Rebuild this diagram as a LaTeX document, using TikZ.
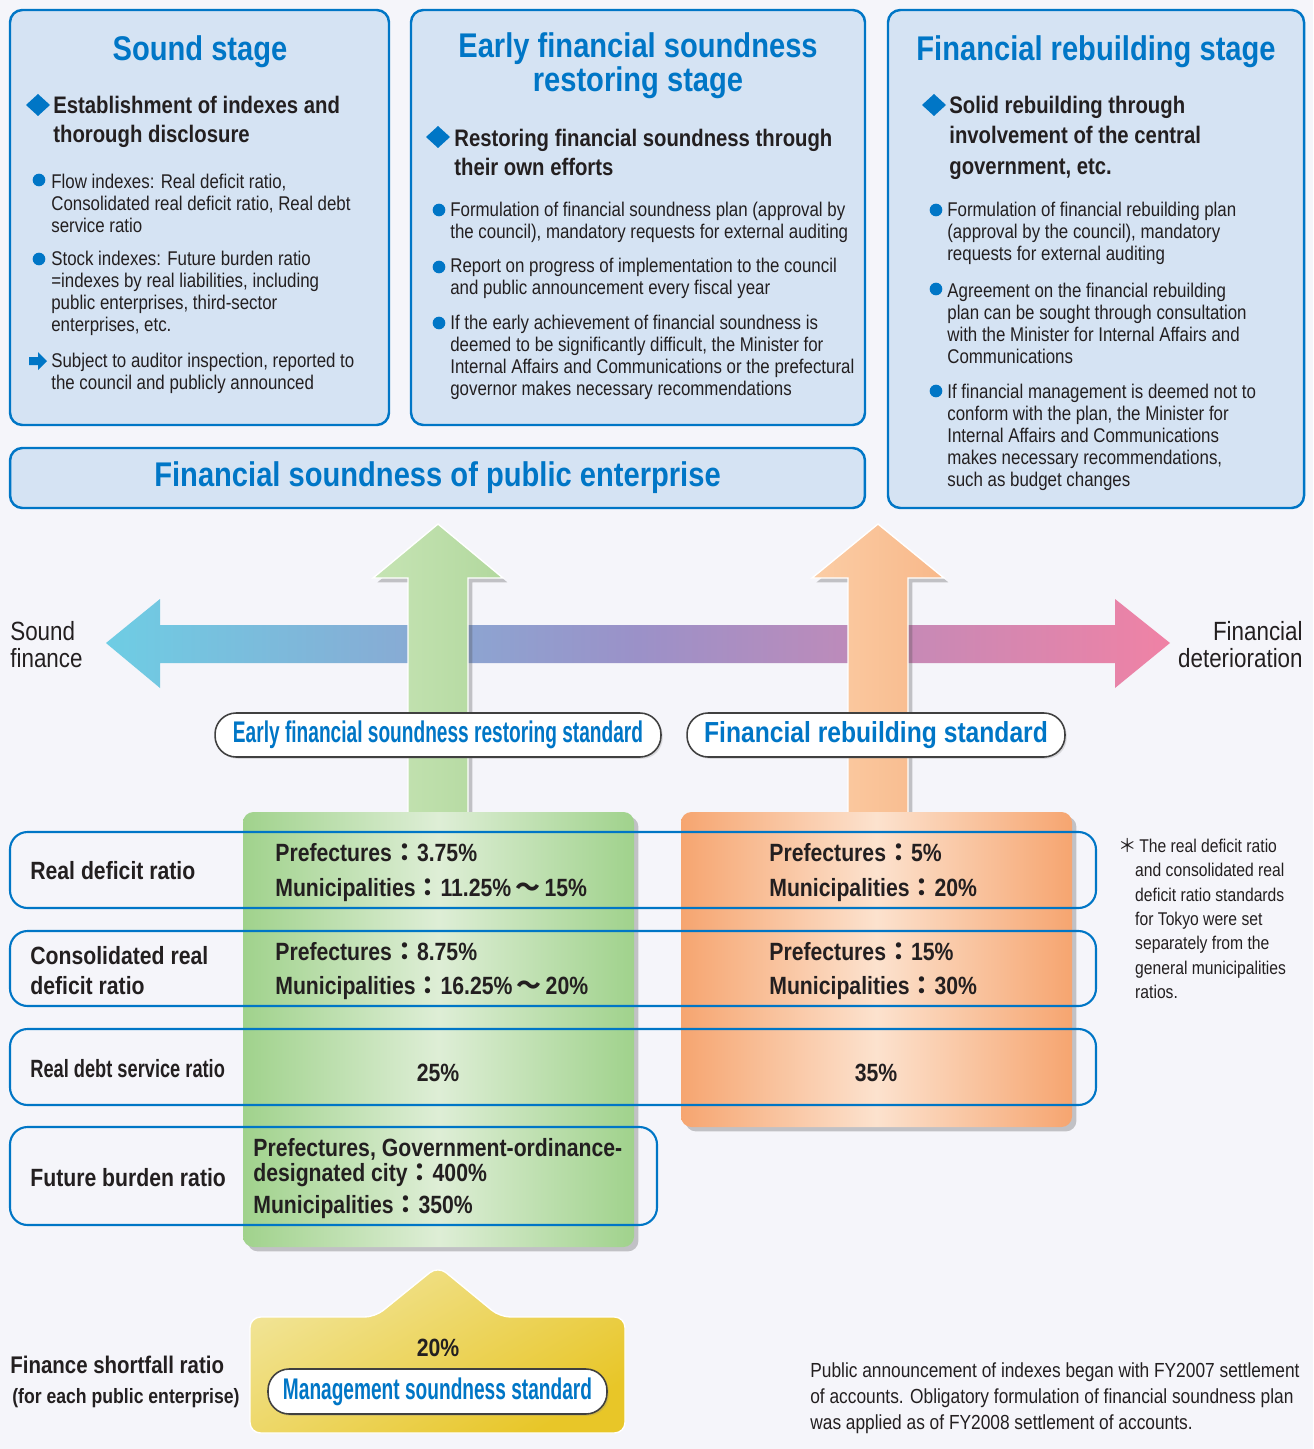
\documentclass[tikz,border=0pt]{standalone}
\usepackage{fontspec}
\setmainfont{Liberation Sans}[FakeStretch=0.85]
\newfontfamily\narrowfont{Liberation Sans}[FakeStretch=0.64]
\newfontfamily\cjk{Noto Sans CJK JP}
\usetikzlibrary{shadows}
\definecolor{pageback}{RGB}{245,245,250}
\definecolor{boxfill}{RGB}{213,227,243}
\definecolor{sblue}{RGB}{0,118,198}
\definecolor{ink}{RGB}{35,31,32}
\definecolor{gedge}{RGB}{160,210,140}
\definecolor{gmid}{RGB}{222,238,214}
\definecolor{garrowl}{RGB}{198,228,180}
\definecolor{garrowr}{RGB}{178,216,158}
\definecolor{oedge}{RGB}{246,165,112}
\definecolor{omid}{RGB}{252,226,206}
\definecolor{oarrowl}{RGB}{251,205,165}
\definecolor{oarrowr}{RGB}{248,184,138}
\definecolor{hcyan}{RGB}{110,205,228}
\definecolor{hpurple}{RGB}{155,145,200}
\definecolor{hpink}{RGB}{240,130,165}
\definecolor{ylight}{RGB}{241,228,150}
\definecolor{ydark}{RGB}{232,198,40}
\newcommand{\zcolon}{{\cjk ：}}
\newcommand{\zwave}{\,{\cjk ～}\,}
\tikzset{
  stagebox/.style={draw=sblue,fill=boxfill,line width=1.4pt,rounded corners=7pt},
  stitle/.style={text=sblue,font=\bfseries\fontsize{19.5}{17.6}\selectfont,align=center,inner sep=0pt},
  shead/.style={text=ink,font=\bfseries\fontsize{13.6}{16.4}\selectfont,align=left,anchor=west,inner sep=0pt},
  body/.style={text=ink,font=\fontsize{11.3}{12.5}\selectfont,align=left,anchor=west,inner sep=0pt},
  side/.style={text=ink,font=\fontsize{15}{15.3}\selectfont,inner sep=0pt},
  rowbox/.style={draw=sblue,line width=1.2pt,rounded corners=10pt},
  rowlabel/.style={text=ink,font=\bfseries\fontsize{14.2}{17}\selectfont,align=left,anchor=west,inner sep=0pt},
  value/.style={text=ink,font=\bfseries\fontsize{14.2}{19.8}\selectfont,align=left,anchor=west,inner sep=0pt},
  pill/.style={draw=black!75,fill=white,line width=0.9pt,rounded corners=12pt,inner sep=0pt,text=sblue,
    drop shadow={shadow xshift=1pt,shadow yshift=-1pt,opacity=.25}},
  note/.style={text=ink,font=\fontsize{10.5}{13.9}\selectfont,align=left,anchor=west,inner sep=0pt},
  softshadow/.style={drop shadow={shadow xshift=2.5pt,shadow yshift=-2.5pt,opacity=.3,fill=black!70}}
}

\begin{document}
\begin{tikzpicture}[x=0.02cm,y=-0.02cm]
  \fill[pageback] (0,0) rectangle (1313,1449);
  \useasboundingbox (0,0) rectangle (1313,1449);

  % stage boxes
  \draw[stagebox] (10,10) rectangle (389,425);
  \draw[stagebox] (411,10) rectangle (865,425);
  \draw[stagebox] (888,10) rectangle (1304,508);
  \node[stagebox,minimum width=17.1cm,minimum height=1.2cm,inner sep=0pt,
    text=sblue,font=\bfseries\fontsize{19.5}{19.5}\selectfont] (banner) at (437.5,478)
    {Financial soundness of public enterprise};

  % sound stage
  \node[stitle] (soundtitle) at (200,52) {Sound stage};
  \fill[sblue] (38,94) -- (50,105) -- (38,116) -- (26,105) -- cycle;
  \node[shead] (soundhead) at (53,121.5) {Establishment of indexes and\\thorough disclosure};
  \fill[sblue] (39,180) circle (3.6pt);
  \node[body] (flow) at (51,203) {Flow indexes: Real deficit ratio,\\Consolidated real deficit ratio, Real debt\\service ratio};
  \fill[sblue] (39,259) circle (3.6pt);
  \node[body] (stock) at (51,293.5) {Stock indexes: Future burden ratio\\=indexes by real liabilities, including\\public enterprises, third-sector\\enterprises, etc.};
  \fill[sblue] (29,357) -- (38,357) -- (38,352) -- (47,361) -- (38,370) -- (38,365) -- (29,365) -- cycle;
  \node[body] (audit) at (51,373) {Subject to auditor inspection, reported to\\the council and publicly announced};

  % early restoring stage
  \node[stitle] (earlytitle) at (638,66) {Early financial soundness\\restoring stage};
  \fill[sblue] (438,126) -- (450,137) -- (438,148) -- (426,137) -- cycle;
  \node[shead] (earlyhead) at (454,152.5) {Restoring financial soundness through\\their own efforts};
  \fill[sblue] (439,210) circle (3.6pt);
  \node[body] (earlyplan) at (450,222) {Formulation of financial soundness plan (approval by\\the council), mandatory requests for external auditing};
  \fill[sblue] (439,267) circle (3.6pt);
  \node[body] (earlyreport) at (450,278.5) {Report on progress of implementation to the council\\and public announcement every fiscal year};
  \fill[sblue] (439,323) circle (3.6pt);
  \node[body] (earlyadvice) at (450,357.5) {If the early achievement of financial soundness is\\deemed to be significantly difficult, the Minister for\\Internal Affairs and Communications or the prefectural\\governor makes necessary recommendations};

  % rebuilding stage
  \node[stitle] (rebuildtitle) at (1096,52) {Financial rebuilding stage};
  \fill[sblue] (934,94) -- (946,105) -- (934,116) -- (922,105) -- cycle;
  \node[shead,font=\bfseries\fontsize{13.6}{17.3}\selectfont] (rebuildhead) at (949,137.5) {Solid rebuilding through\\involvement of the central\\government, etc.};
  \fill[sblue] (936,210) circle (3.6pt);
  \node[body] (rebuildplan) at (947,233) {Formulation of financial rebuilding plan\\(approval by the council), mandatory\\requests for external auditing};
  \fill[sblue] (936,289) circle (3.6pt);
  \node[body] (rebuildagree) at (947,323) {Agreement on the financial rebuilding\\plan can be sought through consultation\\with the Minister for Internal Affairs and\\Communications};
  \fill[sblue] (936,391) circle (3.6pt);
  \node[body] (rebuildadvice) at (947,437) {If financial management is deemed not to\\conform with the plan, the Minister for\\Internal Affairs and Communications\\makes necessary recommendations,\\such as budget changes};

  % sound finance <-> deterioration
  \shade[left color=hcyan,right color=hpink,middle color=hpurple]
    (106,643) -- (160,599) -- (160,625) -- (1115,625) -- (1115,599) -- (1170,643)
    -- (1115,688) -- (1115,663) -- (160,663) -- (160,688) -- cycle;
  \node[side,anchor=west,align=left] (soundfin) at (10,645) {Sound\\finance};
  \node[side,anchor=east,align=right] (deterior) at (1303,645) {Financial\\deterioration};

  % standard arrows
  \shade[softshadow,left color=garrowl,right color=garrowr,draw=white,line width=0.8pt]
    (408,830) -- (408,578) -- (373,578) -- (438,524) -- (503,578) -- (468,578) -- (468,830) -- cycle;
  \shade[softshadow,left color=oarrowl,right color=oarrowr,draw=white,line width=0.8pt]
    (848,830) -- (848,578) -- (812,578) -- (878,524) -- (944,578) -- (908,578) -- (908,830) -- cycle;

  % standard columns
  \shade[softshadow,left color=gedge,right color=gedge,middle color=gmid,rounded corners=6pt]
    (243,812) rectangle (634,1247);
  \shade[softshadow,left color=oedge,right color=oedge,middle color=omid,rounded corners=6pt]
    (681,812) rectangle (1072,1127);

  \node[pill,minimum width=8.92cm,minimum height=0.88cm,
    font=\narrowfont\bfseries\fontsize{17}{17}\selectfont] (earlystd) at (438,735)
    {Early financial soundness restoring standard};
  \node[pill,minimum width=7.56cm,minimum height=0.88cm,
    font=\bfseries\fontsize{16.5}{16.5}\selectfont] (rebuildstd) at (876,735)
    {Financial rebuilding standard};

  % ratio rows
  \draw[rowbox] (10,832) rectangle (1096,908);
  \draw[rowbox] (10,931) rectangle (1096,1006);
  \draw[rowbox] (10,1029) rectangle (1096,1105);
  \draw[rowbox] (10,1127) rectangle (657,1225);

  \node[rowlabel] (rdr) at (30,871) {Real deficit ratio};
  \node[rowlabel] (crdr) at (30,971) {Consolidated real\\deficit ratio};
  \node[rowlabel] (rdsr) at (30,1069) {\scalebox{0.86}[1]{Real debt service ratio}};
  \node[rowlabel] (fbr) at (30,1178) {Future burden ratio};

  \node[value] (rdrearly) at (275,872.5) {Prefectures\zcolon 3.75\%\\Municipalities\zcolon 11.25\%\zwave 15\%};
  \node[value] (rdrrebuild) at (769,872.5) {Prefectures\zcolon 5\%\\Municipalities\zcolon 20\%};
  \node[value] (crdrearly) at (275,971) {Prefectures\zcolon 8.75\%\\Municipalities\zcolon 16.25\%\zwave 20\%};
  \node[value] (crdrrebuild) at (769,971) {Prefectures\zcolon 15\%\\Municipalities\zcolon 30\%};
  \node[value,anchor=center] (rdsrearly) at (438,1073) {25\%};
  \node[value,anchor=center] (rdsrrebuild) at (876,1073) {35\%};
  \node[value,font=\bfseries\fontsize{14.2}{14.6}\selectfont] (fbrearly) at (253,1178.5)
    {Prefectures, Government-ordinance-\\designated city\zcolon 400\%\\[3.6pt]Municipalities\zcolon 350\%};

  \node[note] (tokyo) at (1118,918.5) {{\cjk ＊}\hspace{1.4pt}The real deficit ratio\\
    \hspace*{9.6pt}and consolidated real\\
    \hspace*{9.6pt}deficit ratio standards\\
    \hspace*{9.6pt}for Tokyo were set\\
    \hspace*{9.6pt}separately from the\\
    \hspace*{9.6pt}general municipalities\\
    \hspace*{9.6pt}ratios.};

  % management soundness standard
  \shade[top color=ylight,bottom color=ydark,shading angle=30,draw=white,line width=0.8pt,rounded corners=6pt]
    (250,1433) -- (250,1317) -- (375,1317) -- (438,1266) -- (500,1317) -- (625,1317) -- (625,1433) -- cycle;
  \node[value,anchor=center] (shortfall) at (438,1348) {20\%};
  \node[pill,minimum width=6.78cm,minimum height=0.9cm,
    font=\narrowfont\bfseries\fontsize{17}{17}\selectfont] (mgmtstd) at (437.5,1391.5)
    {Management soundness standard};
  \node[rowlabel,font=\bfseries\fontsize{13.7}{13.7}\selectfont] (fsr) at (10,1365) {Finance shortfall ratio};
  \node[rowlabel,font=\bfseries\fontsize{11.8}{11.8}\selectfont] (fsrnote) at (12,1398) {(for each public enterprise)};

  \node[note,font=\fontsize{11.6}{14.7}\selectfont] (announce) at (810,1398)
    {Public announcement of indexes began with FY2007 settlement\\
     of accounts. Obligatory formulation of financial soundness plan\\
     was applied as of FY2008 settlement of accounts.};
\end{tikzpicture}
\end{document}
